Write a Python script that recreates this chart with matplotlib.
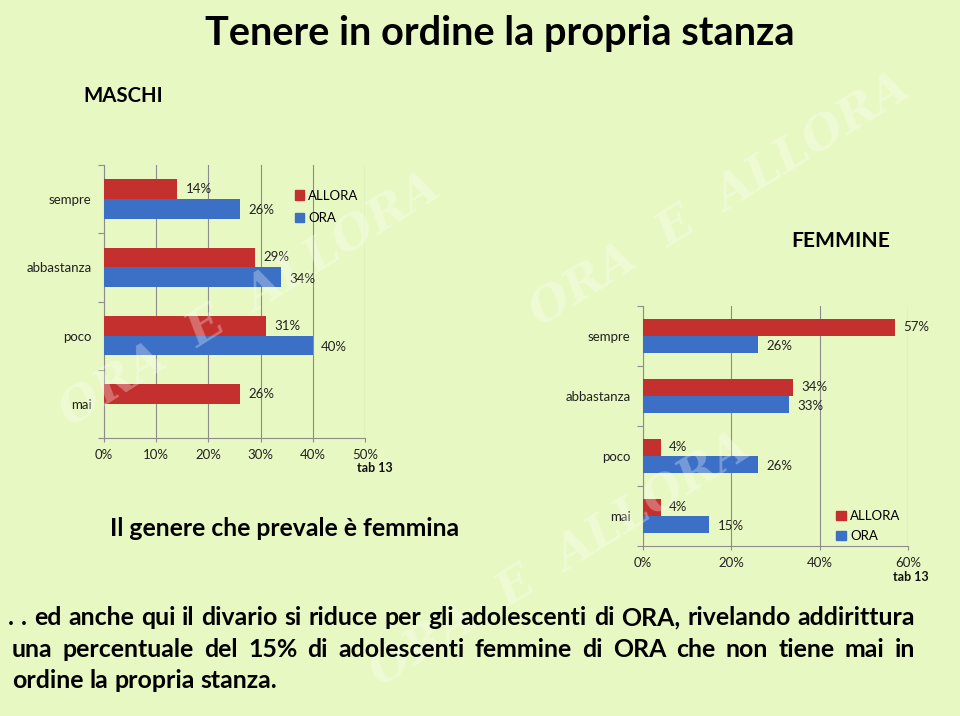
import matplotlib
matplotlib.use('Agg')
import matplotlib.pyplot as plt
from matplotlib.patches import Patch
import numpy as np
import warnings
warnings.filterwarnings('ignore')

# ---------------- data ----------------
categories = ['sempre', 'abbastanza', 'poco', 'mai']
series_names = ['ALLORA', 'ORA']
maschi_allora = [14, 29, 31, 26]
maschi_ora = [26, 34, 40, None]
femmine_allora = [57, 34, 4, 4]
femmine_ora = [26, 33, 26, 15]
maschi_xticks = [0, 10, 20, 30, 40, 50]
femmine_xticks = [0, 20, 40, 60]

title = 'Tenere in ordine la propria stanza'
label_m = 'MASCHI'
label_f = 'FEMMINE'
subtitle = 'Il genere che prevale è femmina'
source = 'tab 13'
para_lines = [
    '. . ed anche qui il divario si riduce per gli adolescenti di ORA, rivelando addirittura',
    'una percentuale del 15% di adolescenti femmine di ORA che non tiene mai in',
    'ordine la propria stanza.',
]

# ---------------- style ----------------
BG = '#E8F8C2'
RED = '#C3302E'
BLUE = '#3C70C6'
GRID = '#8C8C8C'
SANS = ['Lato', 'DejaVu Sans']

W, H = 960, 716
fig = plt.figure(figsize=(9.6, 7.16), dpi=100)
fig.patch.set_facecolor(BG)
renderer = fig.canvas.get_renderer()


def fx(x):
    return x / W


def fy(y):
    return 1 - y / H


# faint watermark
for (cx, cy) in [(250, 300), (720, 200), (560, 560)]:
    fig.text(fx(cx), fy(cy), 'ORA  E  ALLORA', fontsize=34, family='DejaVu Serif',
             style='italic', weight='bold', color='white', alpha=0.3,
             rotation=32, ha='center', va='center', zorder=0)


def px_axes(x0, y0, x1, y1):
    return fig.add_axes([fx(x0), fy(y1), (x1 - x0) / W, (y1 - y0) / H])


def draw_chart(ax, allora, ora, xticks, leg_anchor, leg_spacing, src_xy):
    ax.set_facecolor('none')
    y = np.arange(len(categories))
    h = 0.29
    a_vals = [v if v is not None else 0 for v in allora]
    o_vals = [v if v is not None else 0 for v in ora]
    ax.barh(y - h / 2, a_vals, height=h, color=RED, zorder=3, label=series_names[0])
    ax.barh(y + h / 2, o_vals, height=h, color=BLUE, zorder=3, label=series_names[1])
    for yi, v in zip(y, allora):
        if v is not None:
            ax.annotate(f'{v}%', (v, yi - h / 2), xytext=(6, 0), textcoords='offset points',
                        ha='left', va='center', fontsize=9.5, family=SANS, color='#222222')
    for yi, v in zip(y, ora):
        if v is not None:
            ax.annotate(f'{v}%', (v, yi + h / 2), xytext=(6, -1), textcoords='offset points',
                        ha='left', va='center', fontsize=9.5, family=SANS, color='#222222')
    ax.set_xlim(0, xticks[-1])
    ax.set_xticks(xticks)
    ax.set_xticklabels([f'{t}%' for t in xticks], family=SANS, fontsize=9.5, color='#222222')
    ax.set_ylim(len(categories) - 0.5, -0.5)
    ax.set_yticks(y)
    ax.set_yticklabels(categories, family=SANS, fontsize=9.5, color='#222222')
    ax.set_yticks(np.arange(-0.5, len(categories) + 0.5, 1), minor=True)
    ax.tick_params(axis='y', which='major', length=0, pad=9)
    ax.tick_params(axis='y', which='minor', length=4, color=GRID, width=0.8)
    ax.tick_params(axis='x', which='major', length=3, color=GRID, width=0.8, pad=5)
    ax.grid(axis='x', color=GRID, lw=0.8, zorder=0)
    ax.set_axisbelow(True)
    for s in ['top', 'right']:
        ax.spines[s].set_visible(False)
    for s in ['left', 'bottom']:
        ax.spines[s].set_color(GRID)
        ax.spines[s].set_linewidth(0.8)
    handles = [Patch(color=RED, label=series_names[0]), Patch(color=BLUE, label=series_names[1])]
    ax.legend(handles=handles, loc='upper left', bbox_to_anchor=leg_anchor, frameon=False,
              prop={'family': SANS, 'size': 9.5}, handlelength=0.7, handleheight=0.7,
              handletextpad=0.35, labelspacing=leg_spacing, borderpad=0, borderaxespad=0)
    fig.text(fx(src_xy[0]), fy(src_xy[1]), source, ha='right', va='center', fontsize=9,
             weight='bold', family=SANS, color='#111111')


axL = px_axes(104, 165, 365, 438)
draw_chart(axL, maschi_allora, maschi_ora, maschi_xticks, (0.73, 0.91), 0.8, (393, 468))
axR = px_axes(643, 306, 908, 546)
draw_chart(axR, femmine_allora, femmine_ora, femmine_xticks, (0.73, 0.15), 0.6, (929, 577))


def fit_text(s, x0, x1, y, family, weight='bold'):
    t = fig.text(fx(x0), fy(y), s, fontsize=20, family=family, weight=weight,
                 ha='left', va='center', color='black')
    w = t.get_window_extent(renderer).width
    t.set_fontsize(20 * (x1 - x0) / w)
    return t


fit_text(title, 205, 795, 34, SANS)
fit_text(label_m, 83, 163, 96, SANS)
fit_text(label_f, 791, 889, 241, SANS)
fit_text(subtitle, 110, 460, 529, SANS)

# paragraph font size chosen so the first line fits naturally in its width
probe = fig.text(0, 0, para_lines[0], fontsize=20, family=SANS, weight='bold')
PFS = 20 * 895 / probe.get_window_extent(renderer).width
probe.remove()


def justify_line(line, x0, x1, yb, fs, justify=True):
    words = line.split(' ')
    texts = [fig.text(0, 0, wd, fontsize=fs, family=SANS, weight='bold', color='black',
                      ha='left', va='baseline') for wd in words]
    widths = [t.get_window_extent(renderer).width for t in texts]
    if justify and len(words) > 1:
        gap = (x1 - x0 - sum(widths)) / (len(words) - 1)
    else:
        sp = fig.text(0, 0, 'a a', fontsize=fs, family=SANS, weight='bold')
        sp2 = fig.text(0, 0, 'aa', fontsize=fs, family=SANS, weight='bold')
        gap = sp.get_window_extent(renderer).width - sp2.get_window_extent(renderer).width
        sp.remove(); sp2.remove()
    x = x0
    for t, w in zip(texts, widths):
        t.set_position((fx(x), fy(yb)))
        x += w + gap


justify_line(para_lines[0], 8, 915, 625, PFS)
justify_line(para_lines[1], 12, 915, 657, PFS)
justify_line(para_lines[2], 12, 915, 688, PFS, justify=False)

fig.savefig('out.png', dpi=100, facecolor=BG)
